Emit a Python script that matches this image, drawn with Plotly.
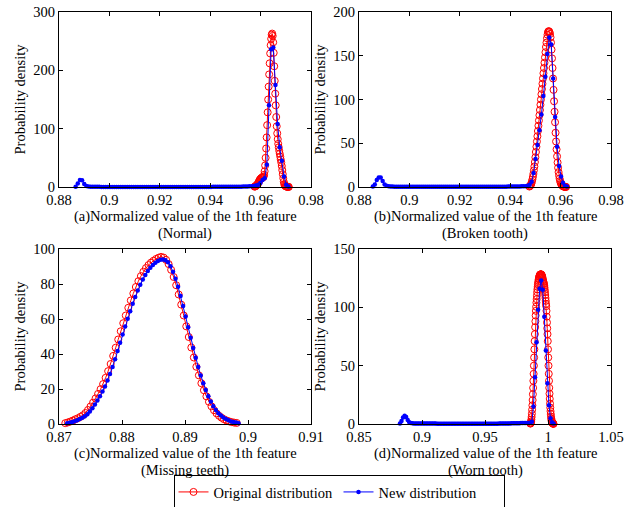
import numpy as np
import plotly.graph_objects as go

FONT = "Liberation Serif, Times New Roman, serif"

# ---------------- data ----------------
# (a) Normal
a_orig_x_range = (0.9576, 0.9712)
a_orig_y = [0.5, 1, 1.5, 2, 3, 4, 5, 6, 8, 10,
            12, 13, 14, 15, 16, 16, 16, 17, 18, 21,
            27, 37, 50, 66, 85, 106, 128, 150, 172, 193,
            212, 229, 243, 254, 261, 263, 259, 248, 230, 207,
            182, 160, 140, 120, 104, 92, 82, 74, 68, 62,
            57, 52, 47, 42, 36, 29, 22, 15, 9, 5,
            3, 1.8, 1.2, 0.8, 0.6, 0.4, 0.3, 0.2, 0.1]
a_new_x_range = (0.8866, 0.9710)
a_new_y = [0.5, 6, 12, 11.5, 5, 1.8, 0.9, 0.6, 0.4, 0.3,
           0.3, 0.3, 0.2, 0.2, 0.2, 0.2, 0.2, 0.2, 0.2, 0.2,
           0.2, 0.2, 0.2, 0.2, 0.2, 0.2, 0.2, 0.2, 0.2, 0.2,
           0.2, 0.2, 0.2, 0.2, 0.2, 0.2, 0.2, 0.2, 0.2, 0.2,
           0.2, 0.2, 0.2, 0.2, 0.2, 0.2, 0.2, 0.2, 0.2, 0.2,
           0.2, 0.2, 0.2, 0.2, 0.2, 0.2, 0.2, 0.2, 0.2, 0.2,
           0.2, 0.2, 0.2, 0.2, 0.3, 0.3, 0.3, 0.3, 0.3, 0.3,
           0.4, 0.4, 0.4, 0.5, 0.5, 0.5, 0.6, 0.6, 0.7, 0.8,
           0.9, 1.1, 1.4, 1.8, 2.5, 4, 7, 12, 15, 38,
           140, 236, 239, 175, 108, 68, 45, 18, 4, 1]

# (b) Broken tooth
b_orig_x_range = (0.9476, 0.9622)
b_orig_y = [0.5, 1, 1.5, 2.5, 4, 6, 8.5, 11.5, 15, 19,
            23.5, 28.5, 34, 40, 46, 52, 58, 64, 70, 76,
            82, 88, 94, 100, 106, 112, 118, 124, 130, 136,
            142, 148, 154, 160, 165, 170, 174, 177, 178, 178,
            177, 175, 171, 165, 157, 147, 136, 124, 111, 98,
            86, 74, 62, 52, 43, 35, 28, 22, 17, 13,
            9.5, 7, 5, 3.5, 2.5, 1.8, 1.2, 0.8, 0.5, 0.35,
            0.25, 0.15, 0.1, 0.05]
b_new_x_range = (0.8855, 0.9625)
b_new_y = [0.5, 3, 8, 11, 11, 7, 3, 1.5, 1, 0.7,
           0.5, 0.4, 0.4, 0.3, 0.3, 0.3, 0.3, 0.3, 0.3, 0.3,
           0.3, 0.3, 0.3, 0.3, 0.3, 0.3, 0.3, 0.3, 0.3, 0.3,
           0.3, 0.3, 0.3, 0.3, 0.3, 0.3, 0.3, 0.3, 0.3, 0.3,
           0.3, 0.3, 0.3, 0.3, 0.3, 0.3, 0.3, 0.3, 0.3, 0.3,
           0.3, 0.3, 0.3, 0.3, 0.3, 0.3, 0.3, 0.3, 0.3, 0.3,
           0.3, 0.3, 0.3, 0.3, 0.3, 0.4, 0.4, 0.4, 0.4, 0.5,
           0.5, 0.5, 0.6, 0.6, 0.7, 0.7, 0.8, 0.9, 1, 1.5,
           2.5, 6, 16, 32, 48, 65, 83, 104, 126, 152,
           171, 163, 124, 80, 46, 24, 12, 5, 1.5, 0.5]

# (c) Missing teeth
c_orig_x_range = (0.8710, 0.8982)
c_orig_y = [0.5, 0.9, 1.4, 2.0, 2.7, 3.3, 4.1, 5.0, 6.3, 8.0,
            10.0, 12.2, 14.6, 17.2, 19.9, 22.8, 26.4, 30.2, 34.3, 38.9,
            43.6, 48.3, 53.0, 57.6, 62.0, 66.4, 70.6, 74.6, 78.3, 81.6,
            84.5, 87.0, 89.1, 90.8, 92.2, 93.3, 94.3, 95.0, 95.5, 95.1,
            93.8, 91.4, 88.1, 84.0, 79.3, 74.0, 68.2, 62.0, 55.8, 49.7,
            43.7, 38.0, 32.7, 27.8, 23.3, 19.3, 15.8, 12.7, 10.1, 7.9,
            6.1, 4.7, 3.6, 2.7, 2.0, 1.5, 1.1, 0.8, 0.6]
c_new_x_range = (0.8713, 0.8985)
c_new_y = [0.4, 0.7, 1.1, 1.6, 2.2, 2.9, 3.6, 4.5, 5.6, 7.1,
           9.0, 11.1, 13.4, 15.9, 18.6, 21.4, 24.8, 28.6, 32.6, 37.0,
           41.7, 46.4, 51.1, 55.7, 60.1, 64.5, 68.7, 72.6, 76.3, 79.6,
           82.6, 85.2, 87.5, 89.3, 90.9, 92.2, 93.2, 93.8, 94.0, 93.6,
           92.4, 90.2, 87.0, 83.0, 78.4, 73.2, 67.5, 61.4, 55.3, 49.3,
           43.4, 37.8, 32.6, 27.7, 23.3, 19.4, 15.9, 12.8, 10.2, 8.0,
           6.2, 4.8, 3.7, 2.8, 2.1, 1.5, 1.1, 0.8, 0.5]

# (d) Worn tooth
d_orig_x_range = (0.9860, 1.0044)
d_orig_y = [0.3, 0.6, 1.2, 2.2, 3.8, 6.0, 8.8, 12.2, 16.0, 20.5,
            25.5, 31, 37, 43, 50, 57, 64, 71, 77, 83,
            88, 93, 97, 100.5, 104, 107, 110, 113, 115.5, 117.5,
            119.5, 121, 122.5, 124, 125, 126, 126.8, 127.4, 127.8, 128,
            128.2, 128.3, 128.3, 128.2, 128, 127.6, 127, 126.3, 125.4, 124.3,
            123.2, 122.4, 121.6, 120.8, 119.8, 118.5, 117, 115, 113, 110.5,
            108, 105.5, 103, 101, 97, 92, 87, 82, 77, 71,
            64, 57, 50, 43, 37, 31, 26, 21.5, 17.5, 14,
            11, 8.5, 6.3, 4.6, 3.3, 2.3, 1.6, 1.1, 0.8, 0.5,
            0.35, 0.2, 0.1]
d_new_x_range = (0.8825, 1.00446)
d_new_y = [0.5, 2.5, 5.5, 7, 6, 3.5, 1.5, 0.8, 0.6, 0.5,
           0.4, 0.4, 0.4, 0.4, 0.4, 0.4, 0.4, 0.4, 0.4, 0.4,
           0.4, 0.4, 0.4, 0.4, 0.3, 0.3, 0.3, 0.3, 0.3, 0.3,
           0.3, 0.3, 0.3, 0.3, 0.3, 0.3, 0.3, 0.3, 0.3, 0.3,
           0.3, 0.3, 0.3, 0.3, 0.3, 0.3, 0.3, 0.3, 0.3, 0.3,
           0.3, 0.3, 0.3, 0.3, 0.3, 0.3, 0.3, 0.3, 0.3, 0.3,
           0.3, 0.3, 0.3, 0.3, 0.4, 0.4, 0.4, 0.4, 0.5, 0.5,
           0.5, 0.5, 0.6, 0.6, 0.6, 0.7, 0.7, 0.7, 0.8, 0.8,
           0.8, 0.8, 0.8, 0.8, 1, 2, 15, 40, 70, 98,
           116, 123, 115, 92, 63, 35, 16, 5, 1.5, 0.4]

# axis ranges and ticks
a_xticks = [0.88, 0.90, 0.92, 0.94, 0.96, 0.98]
a_xticktext = ["0.88", "0.9", "0.92", "0.94", "0.96", "0.98"]
a_yticks = [0, 100, 200, 300]
b_xticks = a_xticks
b_xticktext = a_xticktext
b_yticks = [0, 50, 100, 150, 200]
c_xticks = [0.87, 0.88, 0.89, 0.90, 0.91]
c_xticktext = ["0.87", "0.88", "0.89", "0.9", "0.91"]
c_yticks = [0, 20, 40, 60, 80, 100]
d_xticks = [0.85, 0.90, 0.95, 1.00, 1.05]
d_xticktext = ["0.85", "0.9", "0.95", "1", "1.05"]
d_yticks = [0, 50, 100, 150]

x_titles = ["(a)Normalized value of the 1th feature",
            "(b)Normalized value of the 1th feature",
            "(c)Normalized value of the 1th feature",
            "(d)Normalized value of the 1th feature"]
x_subtitles = ["(Normal)", "(Broken tooth)", "(Missing teeth)", "(Worn tooth)"]
y_title = "Probability density"
series_names = ["Original distribution", "New distribution"]

# ---------------- figure ----------------
W, H = 634, 507
fig = go.Figure()

panels = [
    (a_orig_x_range, a_orig_y, a_new_x_range, a_new_y, "x", "y"),
    (b_orig_x_range, b_orig_y, b_new_x_range, b_new_y, "x2", "y2"),
    (c_orig_x_range, c_orig_y, c_new_x_range, c_new_y, "x3", "y3"),
    (d_orig_x_range, d_orig_y, d_new_x_range, d_new_y, "x4", "y4"),
]

for k, (oxr, oy, nxr, ny, xa, ya) in enumerate(panels):
    ox = np.linspace(oxr[0], oxr[1], len(oy))
    nx = np.linspace(nxr[0], nxr[1], len(ny))
    fig.add_trace(go.Scatter(
        x=ox, y=oy, xaxis=xa, yaxis=ya, mode="lines+markers",
        name=series_names[0], showlegend=(k == 0), legendgroup="o",
        line=dict(color="#FF0000", width=1),
        marker=dict(symbol="circle-open", size=7, color="#FF0000",
                    line=dict(width=1, color="#FF0000")),
        cliponaxis=False))
    fig.add_trace(go.Scatter(
        x=nx, y=ny, xaxis=xa, yaxis=ya, mode="lines+markers",
        name=series_names[1], showlegend=(k == 0), legendgroup="n",
        line=dict(color="#0000FF", width=1),
        marker=dict(symbol="circle", size=4.5, color="#0000FF"),
        cliponaxis=False))


def px_x(p):
    return p / W


def px_y(p):
    return 1 - p / H


dom_left = [px_x(59), px_x(311)]
dom_right = [px_x(359), px_x(611)]
dom_top = [px_y(187), px_y(12)]
dom_bot = [px_y(424), px_y(249)]

TICKFONT = dict(family=FONT, size=14.5, color="black")


def xaxis(dom, rng, tv, tt, anchor):
    return dict(domain=dom, range=rng, tickvals=tv, ticktext=tt, anchor=anchor,
                ticks="inside", ticklen=4, tickwidth=1, tickcolor="black",
                showline=True, linecolor="black", linewidth=1, mirror="ticks",
                showgrid=False, zeroline=False, automargin=False,
                fixedrange=True, tickfont=TICKFONT)


def yaxis(dom, rng, tv, anchor):
    return dict(domain=dom, range=rng, tickvals=tv, anchor=anchor,
                ticks="inside", ticklen=4, tickwidth=1, tickcolor="black",
                showline=True, linecolor="black", linewidth=1, mirror="ticks",
                showgrid=False, zeroline=False, automargin=False,
                fixedrange=True, tickfont=TICKFONT)


fig.update_layout(
    template="none",
    width=W, height=H,
    margin=dict(l=0, r=0, t=0, b=0, pad=0, autoexpand=False),
    paper_bgcolor="white", plot_bgcolor="white",
    font=dict(family=FONT, size=14.5, color="black"),
    xaxis=xaxis(dom_left, [a_xticks[0], a_xticks[-1]], a_xticks, a_xticktext, "y"),
    yaxis=yaxis(dom_top, [a_yticks[0], a_yticks[-1]], a_yticks, "x"),
    xaxis2=xaxis(dom_right, [b_xticks[0], b_xticks[-1]], b_xticks, b_xticktext, "y2"),
    yaxis2=yaxis(dom_top, [b_yticks[0], b_yticks[-1]], b_yticks, "x2"),
    xaxis3=xaxis(dom_left, [c_xticks[0], c_xticks[-1]], c_xticks, c_xticktext, "y3"),
    yaxis3=yaxis(dom_bot, [c_yticks[0], c_yticks[-1]], c_yticks, "x3"),
    xaxis4=xaxis(dom_right, [d_xticks[0], d_xticks[-1]], d_xticks, d_xticktext, "y4"),
    yaxis4=yaxis(dom_bot, [d_yticks[0], d_yticks[-1]], d_yticks, "x4"),
    legend=dict(orientation="h", x=px_x(339), y=px_y(492),
                xanchor="center", yanchor="middle",
                bordercolor="black", borderwidth=1, bgcolor="white",
                font=dict(family=FONT, size=14.5, color="black"),
                itemwidth=30, tracegroupgap=0,
                entrywidth=120, entrywidthmode="pixels"),
)

annots = []
centers_x = [185, 485, 185, 485]
line1_y = [216.5, 216.5, 453, 453]
line2_y = [233.5, 233.5, 470, 470]
ytitle_x = [19, 319, 19, 319]
ytitle_y = [99.5, 99.5, 336.5, 336.5]
for k in range(4):
    annots.append(dict(text=x_titles[k], x=px_x(centers_x[k]), y=px_y(line1_y[k]),
                       xref="paper", yref="paper", showarrow=False,
                       xanchor="center", yanchor="middle",
                       font=dict(family=FONT, size=14.5, color="black")))
    annots.append(dict(text=x_subtitles[k], x=px_x(centers_x[k]), y=px_y(line2_y[k]),
                       xref="paper", yref="paper", showarrow=False,
                       xanchor="center", yanchor="middle",
                       font=dict(family=FONT, size=14.5, color="black")))
    annots.append(dict(text=y_title, x=px_x(ytitle_x[k]), y=px_y(ytitle_y[k]),
                       xref="paper", yref="paper", showarrow=False, textangle=-90,
                       xanchor="center", yanchor="middle",
                       font=dict(family=FONT, size=14.5, color="black")))
fig.update_layout(annotations=annots)

fig.write_html("out.html",
               config={"displayModeBar": False, "staticPlot": False},
               post_script="document.body.style.margin='0px';"
                           "document.body.style.padding='0px';"
                           "document.body.style.overflow='hidden';")
